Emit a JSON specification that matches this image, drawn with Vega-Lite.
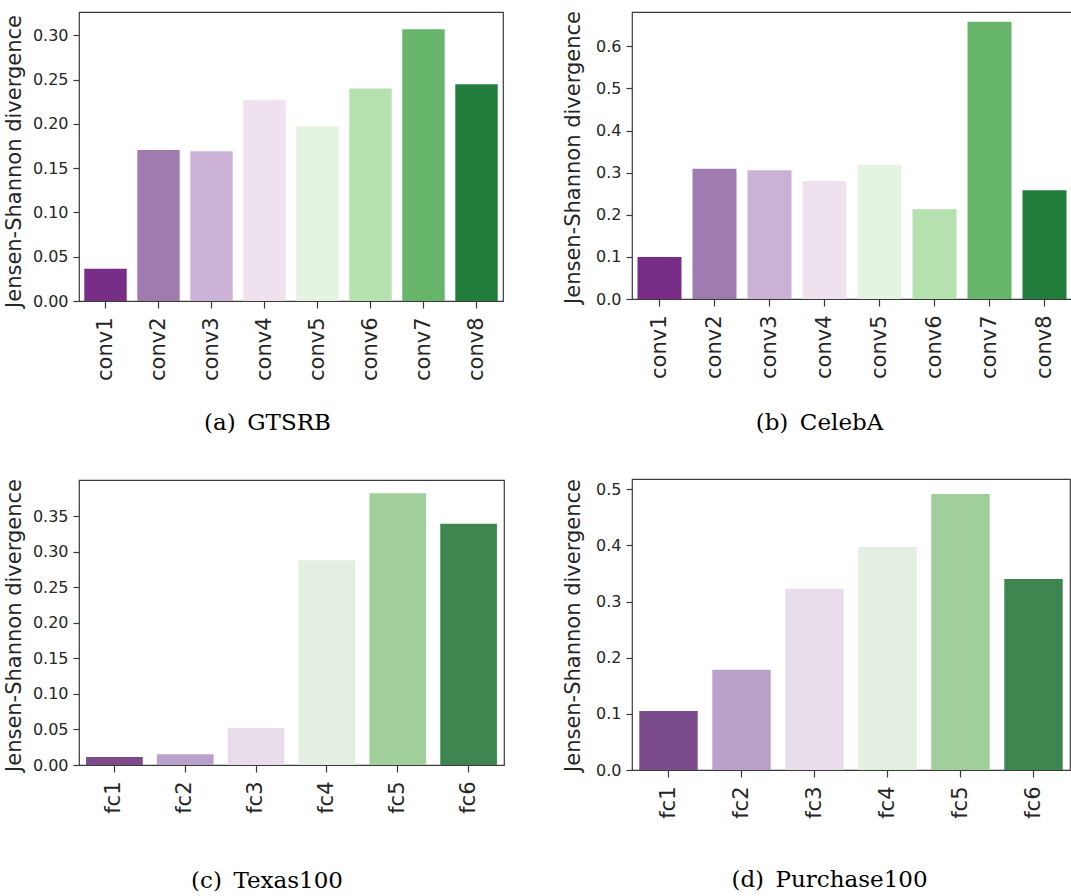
{
  "$schema": "https://vega.github.io/schema/vega-lite/v6.json",
  "background": "white",
  "padding": {"left": 2, "top": 4, "right": 0, "bottom": 0},
  "config": {
    "view": {"stroke": "#3a3a3a", "strokeWidth": 1.2},
    "axis": {
      "grid": false,
      "domain": false,
      "labelFont": "DejaVu Sans",
      "titleFont": "DejaVu Sans",
      "labelColor": "#262626",
      "titleColor": "#262626",
      "tickColor": "#3a3a3a",
      "tickWidth": 1.2,
      "titleFontWeight": "normal"
    },
    "axisX": {
      "labelAngle": 270,
      "labelAlign": "right",
      "labelBaseline": "middle",
      "labelFontSize": 21,
      "tickSize": 7,
      "labelPadding": 9,
      "titleFont": "DejaVu Serif",
      "titleFontSize": 23,
      "titleColor": "#000000",
      "titleBaseline": "alphabetic",
      "titleAlign": "center",
      "titleAngle": 0
    },
    "axisY": {
      "labelFontSize": 16,
      "tickSize": 6,
      "labelPadding": 5,
      "titleFontSize": 21,
      "titleAngle": 270,
      "titleBaseline": "bottom",
      "titleAlign": "center"
    }
  },
  "datasets": {
    "gtsrb": [
      {"layer": "conv1", "jsd": 0.0365},
      {"layer": "conv2", "jsd": 0.1705},
      {"layer": "conv3", "jsd": 0.169},
      {"layer": "conv4", "jsd": 0.2273},
      {"layer": "conv5", "jsd": 0.197},
      {"layer": "conv6", "jsd": 0.240},
      {"layer": "conv7", "jsd": 0.3067},
      {"layer": "conv8", "jsd": 0.2446}
    ],
    "celeba": [
      {"layer": "conv1", "jsd": 0.100},
      {"layer": "conv2", "jsd": 0.309},
      {"layer": "conv3", "jsd": 0.3055},
      {"layer": "conv4", "jsd": 0.280},
      {"layer": "conv5", "jsd": 0.319},
      {"layer": "conv6", "jsd": 0.213},
      {"layer": "conv7", "jsd": 0.6586},
      {"layer": "conv8", "jsd": 0.258}
    ],
    "texas": [
      {"layer": "fc1", "jsd": 0.0113},
      {"layer": "fc2", "jsd": 0.015},
      {"layer": "fc3", "jsd": 0.052},
      {"layer": "fc4", "jsd": 0.288},
      {"layer": "fc5", "jsd": 0.3825},
      {"layer": "fc6", "jsd": 0.3397}
    ],
    "purchase": [
      {"layer": "fc1", "jsd": 0.105},
      {"layer": "fc2", "jsd": 0.1785},
      {"layer": "fc3", "jsd": 0.323},
      {"layer": "fc4", "jsd": 0.397},
      {"layer": "fc5", "jsd": 0.4917},
      {"layer": "fc6", "jsd": 0.340}
    ]
  },
  "spacing": 56,
  "hconcat": [
    {
      "spacing": 42,
      "vconcat": [
        {
          "data": {"name": "gtsrb"},
          "width": 424,
          "height": 289,
          "title": {"text": " ", "fontSize": 1, "offset": 6},
          "mark": {"type": "bar"},
          "encoding": {
            "x": {"field": "layer", "type": "nominal", "sort": null,
                  "scale": {"paddingInner": 0.2, "paddingOuter": 0.1},
                  "axis": {"title": "(a)\u2002GTSRB", "titleX": 188, "titleY": 128}},
            "y": {"field": "jsd", "type": "quantitative",
                  "scale": {"domain": [0, 0.3263], "nice": false, "zero": true},
                  "axis": {"title": "Jensen-Shannon divergence", "values": [0, 0.05, 0.1, 0.15, 0.2, 0.25, 0.3], "format": ".2f", "titleX": -55, "titleY": 149}},
            "color": {"field": "layer", "type": "nominal", "legend": null,
                      "scale": {"domain": ["conv1","conv2","conv3","conv4","conv5","conv6","conv7","conv8"],
                                "range": ["#782e87","#a07bb0","#cbb1d6","#eee2ef","#e5f3e1","#b4e1ae","#66b56b","#227c3c"]}}
          }
        },
        {
          "data": {"name": "texas"},
          "width": 425,
          "height": 285,
          "mark": {"type": "bar"},
          "encoding": {
            "x": {"field": "layer", "type": "nominal", "sort": null,
                  "scale": {"paddingInner": 0.2, "paddingOuter": 0.1},
                  "axis": {"title": "(c)\u2002Texas100", "titleX": 187.5, "titleY": 122}},
            "y": {"field": "jsd", "type": "quantitative",
                  "scale": {"domain": [0, 0.4011], "nice": false, "zero": true},
                  "axis": {"title": "Jensen-Shannon divergence", "values": [0, 0.05, 0.1, 0.15, 0.2, 0.25, 0.3, 0.35], "format": ".2f", "titleX": -54.5, "titleY": 145}},
            "color": {"field": "layer", "type": "nominal", "legend": null,
                      "scale": {"domain": ["fc1","fc2","fc3","fc4","fc5","fc6"],
                                "range": ["#7b4b8b","#b9a1c9","#e9dcea","#e3efe0","#a0cf9b","#3d8650"]}}
          }
        }
      ],
      "resolve": {"scale": {"x": "independent", "y": "independent", "color": "independent"}}
    },
    {
      "spacing": 42,
      "vconcat": [
        {
          "data": {"name": "celeba"},
          "width": 440,
          "height": 287,
          "mark": {"type": "bar"},
          "encoding": {
            "x": {"field": "layer", "type": "nominal", "sort": null,
                  "scale": {"paddingInner": 0.2, "paddingOuter": 0.1},
                  "axis": {"title": "(b)\u2002CelebA", "titleX": 187, "titleY": 130}},
            "y": {"field": "jsd", "type": "quantitative",
                  "scale": {"domain": [0, 0.6815], "nice": false, "zero": true},
                  "axis": {"title": "Jensen-Shannon divergence", "values": [0, 0.1, 0.2, 0.3, 0.4, 0.5, 0.6], "format": ".1f", "titleX": -49, "titleY": 145}},
            "color": {"field": "layer", "type": "nominal", "legend": null,
                      "scale": {"domain": ["conv1","conv2","conv3","conv4","conv5","conv6","conv7","conv8"],
                                "range": ["#782e87","#a07bb0","#cbb1d6","#eee2ef","#e5f3e1","#b4e1ae","#66b56b","#227c3c"]}}
          }
        },
        {
          "data": {"name": "purchase"},
          "width": 438,
          "height": 291,
          "mark": {"type": "bar"},
          "encoding": {
            "x": {"field": "layer", "type": "nominal", "sort": null,
                  "scale": {"paddingInner": 0.2, "paddingOuter": 0.1},
                  "axis": {"title": "(d)\u2002Purchase100", "titleX": 197, "titleY": 116}},
            "y": {"field": "jsd", "type": "quantitative",
                  "scale": {"domain": [0, 0.5183], "nice": false, "zero": true},
                  "axis": {"title": "Jensen-Shannon divergence", "values": [0, 0.1, 0.2, 0.3, 0.4, 0.5], "format": ".1f", "titleX": -48.3, "titleY": 146}},
            "color": {"field": "layer", "type": "nominal", "legend": null,
                      "scale": {"domain": ["fc1","fc2","fc3","fc4","fc5","fc6"],
                                "range": ["#7b4b8b","#b9a1c9","#e9dcea","#e3efe0","#a0cf9b","#3d8650"]}}
          }
        }
      ],
      "resolve": {"scale": {"x": "independent", "y": "independent", "color": "independent"}}
    }
  ],
  "resolve": {"scale": {"x": "independent", "y": "independent", "color": "independent"}}
}
